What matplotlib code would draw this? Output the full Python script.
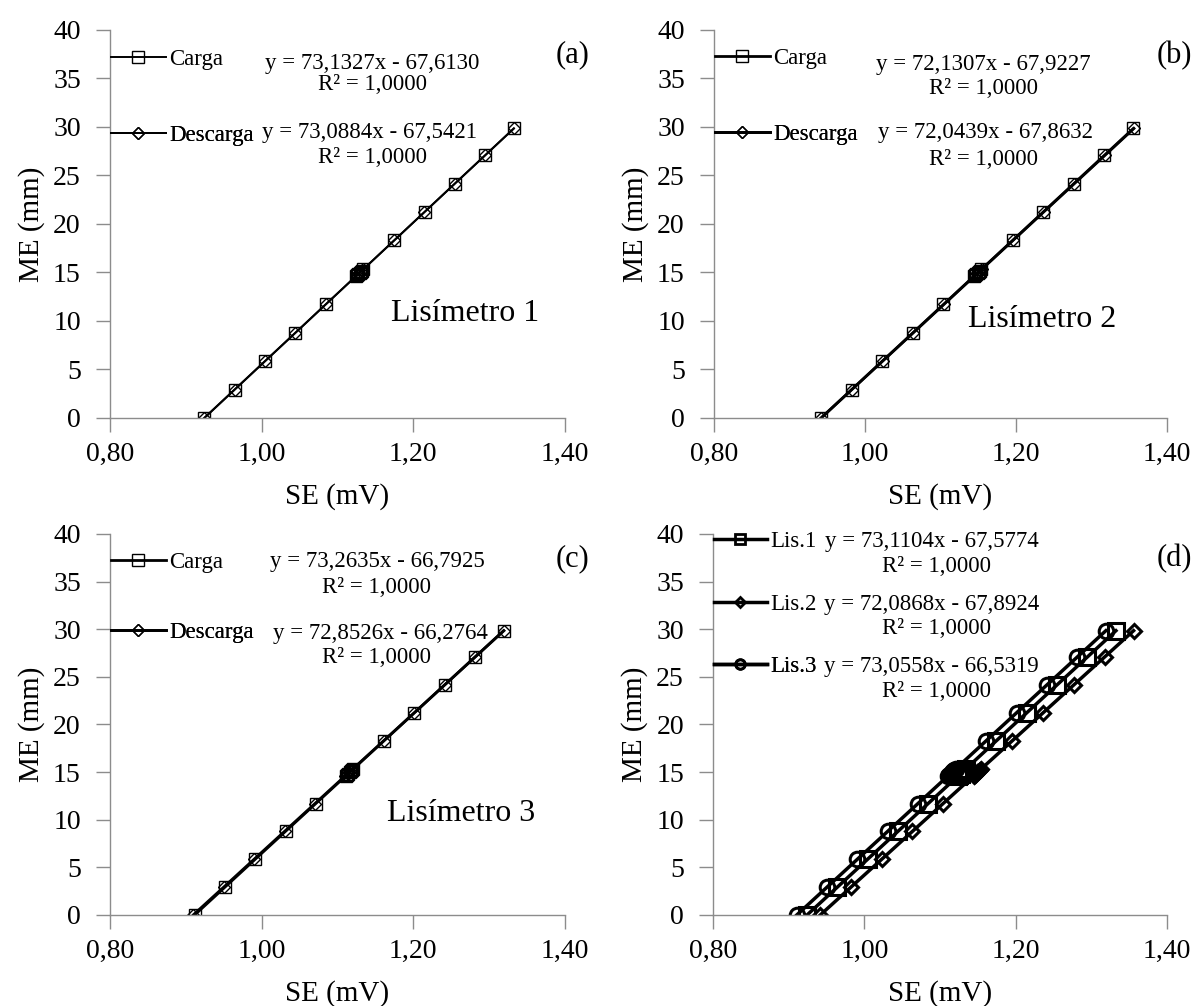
import matplotlib
matplotlib.use("Agg")
import matplotlib.pyplot as plt
from matplotlib.ticker import FuncFormatter

plt.rcParams["font.family"] = ["Liberation Serif", "DejaVu Serif"]

# ---- data ----
me = [0.0, 2.93, 5.85, 8.78, 11.70, 14.60, 14.72, 14.84, 14.96, 15.08, 15.20,
      15.32, 18.30, 21.23, 24.15, 27.08, 29.85]

lis1_carga = [0.9245, 0.9646, 1.0045, 1.0446, 1.0845, 1.1242, 1.1258, 1.1274, 1.1291,
              1.1307, 1.1324, 1.1340, 1.1748, 1.2148, 1.2547, 1.2948, 1.3327]
lis1_descarga = [0.9241, 0.9642, 1.0041, 1.0443, 1.0842, 1.1239, 1.1255, 1.1272, 1.1288,
                 1.1305, 1.1321, 1.1338, 1.1745, 1.2146, 1.2545, 1.2946, 1.3325]

lis2_carga = [0.9417, 0.9823, 1.0228, 1.0634, 1.1039, 1.1441, 1.1458, 1.1474, 1.1491,
              1.1507, 1.1524, 1.1541, 1.1954, 1.2360, 1.2765, 1.3171, 1.3555]
lis2_descarga = [0.9420, 0.9826, 1.0232, 1.0639, 1.1044, 1.1446, 1.1463, 1.1480, 1.1496,
                 1.1513, 1.1530, 1.1546, 1.1960, 1.2366, 1.2772, 1.3179, 1.3563]

lis3_carga = [0.9117, 0.9517, 0.9915, 1.0315, 1.0714, 1.1110, 1.1126, 1.1142, 1.1159,
              1.1175, 1.1191, 1.1208, 1.1615, 1.2015, 1.2413, 1.2813, 1.3191]
lis3_descarga = [0.9097, 0.9500, 0.9900, 1.0302, 1.0703, 1.1101, 1.1118, 1.1134, 1.1151,
                 1.1167, 1.1184, 1.1200, 1.1610, 1.2012, 1.2413, 1.2815, 1.3195]

# panel (d): mean curve of each lysimeter
lis1_media = [0.9243, 0.9644, 1.0043, 1.0444, 1.0843, 1.1240, 1.1257, 1.1273, 1.1290,
              1.1306, 1.1322, 1.1339, 1.1746, 1.2147, 1.2546, 1.2947, 1.3326]
lis2_media = [0.9418, 0.9824, 1.0230, 1.0636, 1.1041, 1.1443, 1.1460, 1.1477, 1.1493,
              1.1510, 1.1527, 1.1543, 1.1957, 1.2363, 1.2768, 1.3175, 1.3559]
lis3_media = [0.9107, 0.9508, 0.9908, 1.0309, 1.0709, 1.1106, 1.1123, 1.1139, 1.1156,
              1.1172, 1.1188, 1.1205, 1.1612, 1.2013, 1.2413, 1.2814, 1.3193]

eq_carga = ["y = 73,1327x - 67,6130", "y = 72,1307x - 67,9227", "y = 73,2635x - 66,7925"]
eq_descarga = ["y = 73,0884x - 67,5421", "y = 72,0439x - 67,8632", "y = 72,8526x - 66,2764"]
eq_media = ["y = 73,1104x - 67,5774", "y = 72,0868x - 67,8924", "y = 73,0558x - 66,5319"]
r2_text = "R² = 1,0000"
panel_tags = ["(a)", "(b)", "(c)", "(d)"]
lis_names = ["Lisímetro 1", "Lisímetro 2", "Lisímetro 3"]
media_labels = ["Lis.1", "Lis.2", "Lis.3"]

x_ticks = [0.80, 1.00, 1.20, 1.40]
y_ticks = [0, 5, 10, 15, 20, 25, 30, 35, 40]

GRAY = "#8c8c8c"
FS_TXT = 16.5


def style_axes(ax):
    ax.set_xlim(0.80, 1.40)
    ax.set_ylim(0, 40)
    ax.set_xticks(x_ticks)
    ax.set_yticks(y_ticks)
    ax.xaxis.set_major_formatter(FuncFormatter(lambda v, p: f"{v:.2f}".replace(".", ",")))
    for s in ["top", "right"]:
        ax.spines[s].set_visible(False)
    for s in ["left", "bottom"]:
        ax.spines[s].set_color(GRAY)
        ax.spines[s].set_linewidth(1.0)
    ax.tick_params(axis="both", direction="out", length=10, width=1.0, color=GRAY,
                   labelsize=20)
    ax.tick_params(axis="x", pad=7)
    ax.tick_params(axis="y", pad=11)
    ax.set_xlabel("SE (mV)", fontsize=21, labelpad=12)
    ax.set_ylabel("ME (mm)", fontsize=21, labelpad=6)


def legend_entry(ax, handle, label, y, fs=FS_TXT, hl=2.4):
    leg = ax.legend([handle], [label], loc="center left", bbox_to_anchor=(0.801, y),
                    bbox_transform=ax.transData, frameon=False, borderpad=0,
                    borderaxespad=0, handlelength=hl, handletextpad=0.15,
                    numpoints=1, fontsize=fs)
    ax.add_artist(leg)


fig = plt.figure(figsize=(11.97, 10.06), dpi=100)
positions = [
    [0.0919, 0.5845, 0.3801, 0.3857],
    [0.5965, 0.5845, 0.3784, 0.3857],
    [0.0919, 0.0905, 0.3801, 0.3787],
    [0.5957, 0.0905, 0.3792, 0.3787],
]
axes = [fig.add_axes(p) for p in positions]

carga_sets = [lis1_carga, lis2_carga, lis3_carga]
descarga_sets = [lis1_descarga, lis2_descarga, lis3_descarga]
line_w = [1.4, 2.0, 2.0]
eq_pos = [
    # (carga eq x, y, R2 y, descarga eq x, y, R2 y)
    (1.146, 36.5, 34.4, 1.142, 29.4, 26.9),
    (1.157, 36.4, 34.0, 1.160, 29.4, 26.6),
    (1.152, 37.1, 34.4, 1.157, 29.5, 27.0),
]
leg_y = [(37.0, 29.1), (37.1, 29.2), (37.0, 29.7)]
lis_pos = [(1.268, 10.8), (1.235, 10.2), (1.263, 10.6)]

for i in range(3):
    ax = axes[i]
    style_axes(ax)
    hc, = ax.plot(carga_sets[i], me, "-", color="black", lw=line_w[i], marker="s",
                  ms=8, mfc="none", mec="black", mew=1.0)
    hd, = ax.plot(descarga_sets[i], me, "-", color="black", lw=line_w[i], marker="D",
                  ms=6, mfc="none", mec="black", mew=1.0)
    legend_entry(ax, hc, "Carga", leg_y[i][0])
    legend_entry(ax, hd, "Descarga", leg_y[i][1])
    cx, cy, cr, dx, dy, dr = eq_pos[i]
    ax.text(cx, cy, eq_carga[i], fontsize=FS_TXT, ha="center", va="center")
    ax.text(cx, cr, r2_text, fontsize=FS_TXT, ha="center", va="center")
    ax.text(dx, dy, eq_descarga[i], fontsize=FS_TXT, ha="center", va="center")
    ax.text(cx, dr, r2_text, fontsize=FS_TXT, ha="center", va="center")
    ax.text(lis_pos[i][0], lis_pos[i][1], lis_names[i], fontsize=23, ha="center",
            va="center")
    ax.text(1.41, 37.4, panel_tags[i], fontsize=22, ha="center", va="center")

# panel (d)
ax = axes[3]
style_axes(ax)
h1, = ax.plot(lis1_media, me, "-", color="black", lw=2.5, marker="s", ms=11.5,
              mfc="none", mec="black", mew=2.2)
h2, = ax.plot(lis2_media, me, "-", color="black", lw=2.5, marker="D", ms=7.5,
              mfc="none", mec="black", mew=2.2)
h3, = ax.plot(lis3_media, me, "-", color="black", lw=2.5, marker="o", ms=10.5,
              mfc="none", mec="black", mew=2.2)
media_leg_y = [39.2, 32.55, 26.1]
media_r2_y = [36.6, 30.1, 23.5]
for h, lab, ly, ry, eq in zip([h1, h2, h3], media_labels, media_leg_y, media_r2_y, eq_media):
    leg_h = plt.Line2D([], [], color="black", lw=2.5, marker=h.get_marker(),
                       ms=h.get_markersize() * 0.65, mfc="none", mec="black", mew=2.0)
    legend_entry(ax, leg_h, lab, ly, hl=2.3)
    ax.text(1.089, ly, eq, fontsize=FS_TXT, ha="center", va="center")
    ax.text(1.096, ry, r2_text, fontsize=FS_TXT, ha="center", va="center")
ax.text(1.41, 37.4, panel_tags[3], fontsize=22, ha="center", va="center")

fig.savefig("out.png", dpi=100)
